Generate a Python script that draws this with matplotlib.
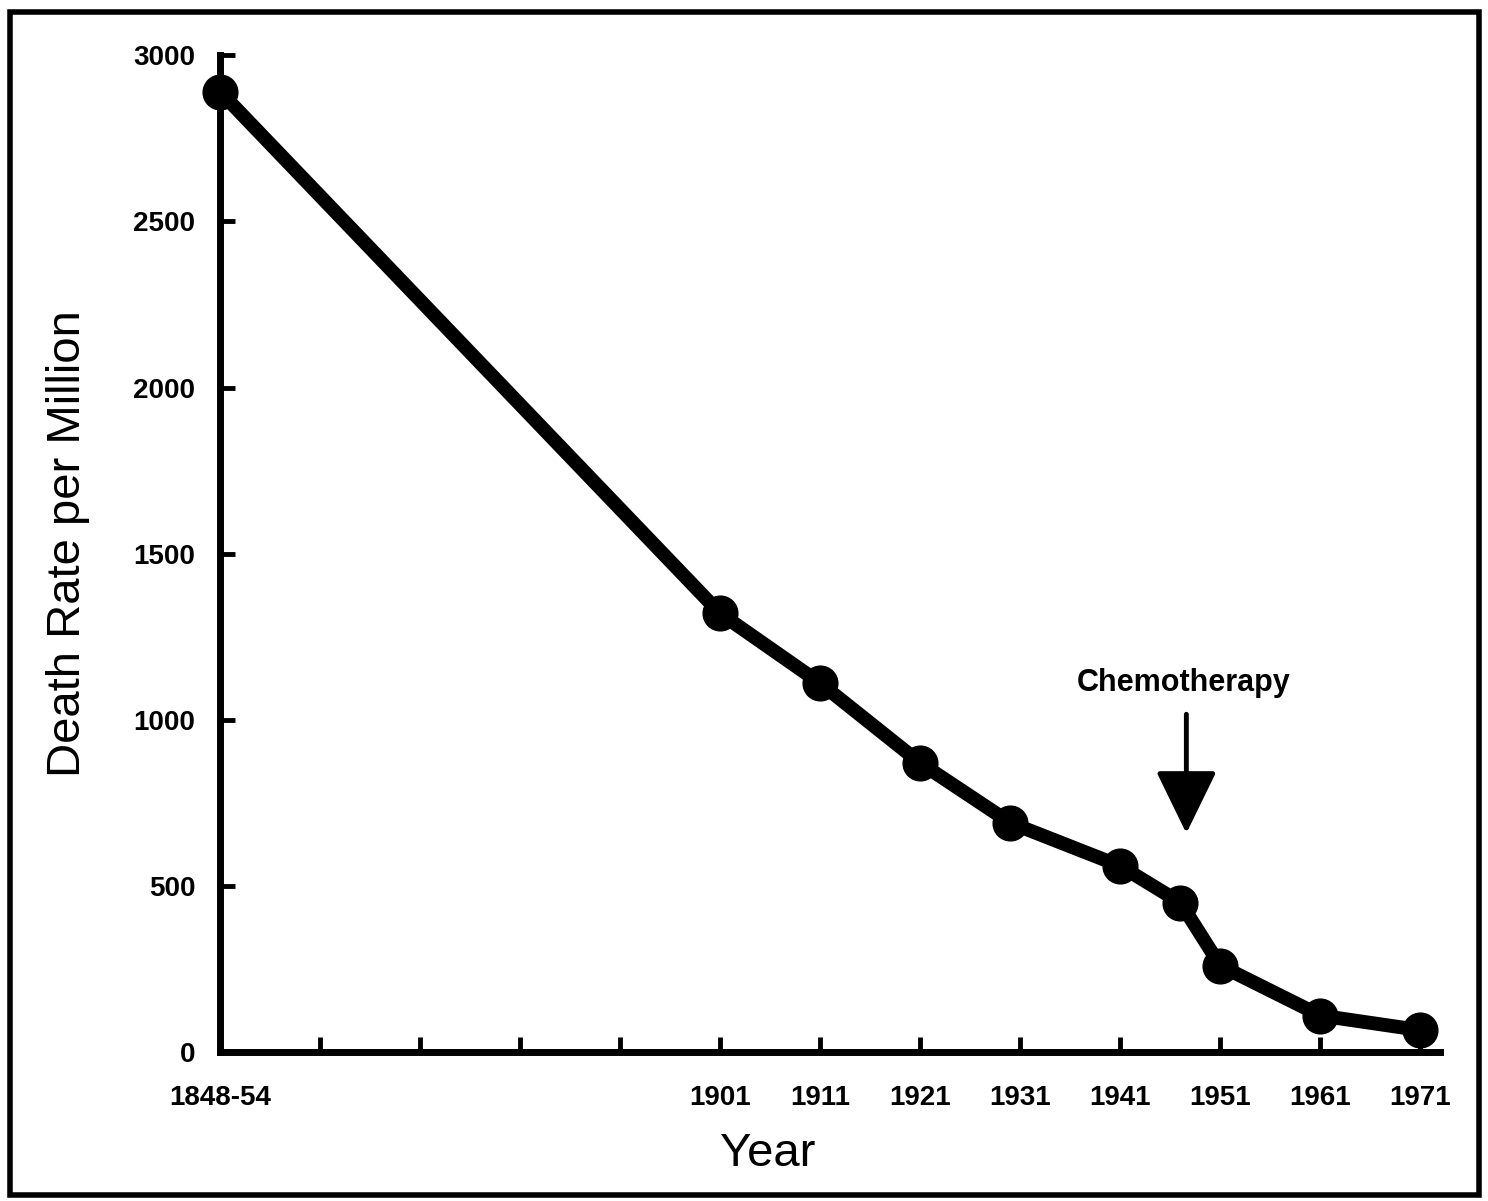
import matplotlib
matplotlib.use("Agg")
import matplotlib.pyplot as plt
from matplotlib.patches import Rectangle

plt.rcParams['font.family'] = ['Liberation Sans', 'DejaVu Sans']

# data (1848-54 plotted at 1851)
years = [1851, 1901, 1911, 1921, 1930, 1941, 1947, 1951, 1961, 1971]
death_rate = [2890, 1320, 1110, 870, 690, 560, 450, 260, 110, 66]

tick_pos = [1851, 1861, 1871, 1881, 1891, 1901, 1911, 1921, 1931, 1941, 1951, 1961, 1971]
tick_lab = ['1848-54', '', '', '', '', '1901', '1911', '1921', '1931', '1941', '1951', '1961', '1971']
y_ticks = [0, 500, 1000, 1500, 2000, 2500, 3000]

fig = plt.figure(figsize=(14.88, 12.01), dpi=100)
ax = fig.add_axes([0.148, 0.124, 0.820, 0.830])

ax.plot(years, death_rate, color='black', lw=10, marker='o', ms=25,
        solid_capstyle='round', clip_on=False, zorder=5)

ax.set_xlim(1851, 1973)
ax.set_ylim(0, 3000)
ax.set_xticks(tick_pos)
ax.set_xticklabels(tick_lab)
ax.set_yticks(y_ticks)

for s in ['top', 'right']:
    ax.spines[s].set_visible(False)
for s in ['left', 'bottom']:
    ax.spines[s].set_linewidth(5)

ax.tick_params(axis='both', direction='in', length=11, width=3.5, labelsize=20)
ax.tick_params(axis='x', pad=24)
ax.tick_params(axis='y', pad=18)
for lab in ax.get_xticklabels() + ax.get_yticklabels():
    lab.set_fontweight('bold')

ax.set_xlabel('Year', fontsize=34)
ax.xaxis.set_label_coords(0.449, -0.080)
ax.set_ylabel('Death Rate per Million', fontsize=34)
ax.yaxis.set_label_coords(-0.107, 0.51)

# chemotherapy marker
ax.annotate('', xy=(1947.6, 650), xytext=(1947.6, 1025),
            arrowprops=dict(arrowstyle='-|>,head_length=3.9,head_width=1.9',
                            color='black', lw=3.5))
ax.text(1947.3, 1110, 'Chemotherapy', fontsize=22, fontweight='bold',
        ha='center', va='center')

# frame around the whole picture
fig.patches.append(Rectangle((0.007, 0.005), 0.987, 0.985, transform=fig.transFigure,
                             fill=False, edgecolor='black', lw=4))

fig.savefig('out.png', dpi=100)
